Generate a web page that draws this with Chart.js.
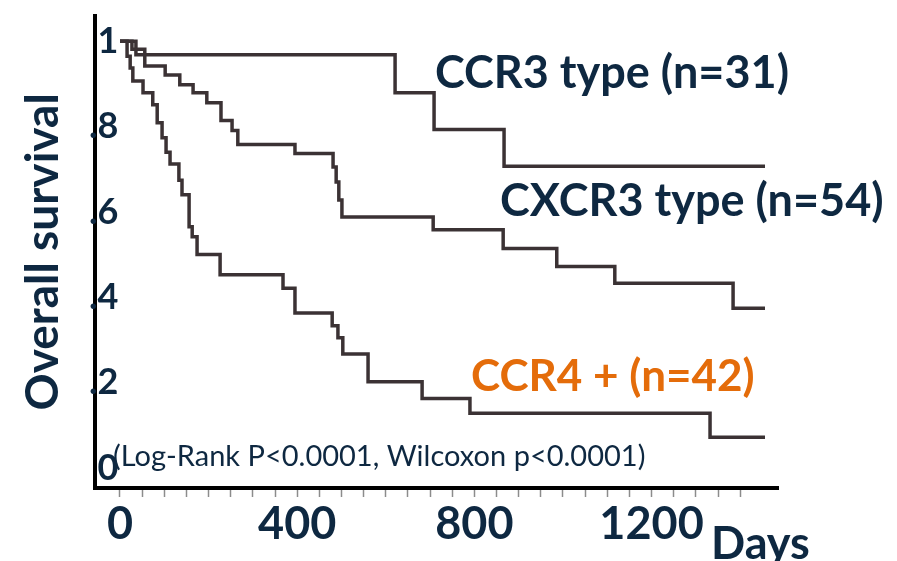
<!DOCTYPE html>
<html>
<head>
<meta charset="utf-8">
<script src="https://cdn.jsdelivr.net/npm/chart.js@4.4.1/dist/chart.umd.min.js"></script>
<style>
  html, body { margin: 0; padding: 0; background: #ffffff; overflow: hidden; }
  #wrap { width: 897px; height: 561px; }
</style>
</head>
<body>
<div id="wrap"><canvas id="c" width="897" height="561"></canvas></div>
<script>
// ---- data ----
const ccr3Days  = [0, 36, 621, 709, 867, 1456];
const ccr3Surv  = [1, 0.968, 0.879, 0.793, 0.707, 0.707];

const cxcr3Days = [0, 27, 56, 102, 135, 165, 196, 228, 253, 266, 395, 481, 488, 494, 501, 707, 865, 986, 1117, 1384, 1456];
const cxcr3Surv = [1, 0.981, 0.942, 0.921, 0.898, 0.879, 0.856, 0.814, 0.791, 0.758, 0.737, 0.705, 0.670, 0.628, 0.588, 0.558, 0.514, 0.472, 0.433, 0.374, 0.374];

const ccr4Days  = [0, 16, 23, 29, 52, 74, 84, 95, 104, 113, 133, 140, 156, 163, 174, 226, 368, 395, 479, 492, 503, 560, 682, 790, 1332, 1456];
const ccr4Surv  = [1, 0.965, 0.937, 0.907, 0.879, 0.851, 0.809, 0.774, 0.740, 0.712, 0.674, 0.640, 0.565, 0.542, 0.500, 0.453, 0.421, 0.363, 0.333, 0.305, 0.267, 0.202, 0.163, 0.128, 0.072, 0.072];

const xTickValues = [0, 400, 800, 1200];
const xTickLabels = ['0', '400', '800', '1200'];
const yTickValues = [0, 0.2, 0.4, 0.6, 0.8, 1];
const yTickLabels = ['0', '.2', '.4', '.6', '.8', '1'];

const groupLabels = ['CCR3 type (n=31)', 'CXCR3 type (n=54)', 'CCR4 + (n=42)'];
const statsNote = '(Log-Rank P<0.0001, Wilcoxon p<0.0001)';
const xTitle = 'Days';
const yTitle = 'Overall survival';

// ---- styles ----
const NAVY = '#0e2841';
const ORANGE = '#e46c0a';
const CURVE = '#3b3234';

function pts(xs, ys) { return xs.map((x, i) => ({ x: x, y: ys[i] })); }

function curve(label, xs, ys) {
  return {
    label: label,
    data: pts(xs, ys),
    stepped: 'before',
    borderColor: CURVE,
    borderWidth: 3.5,
    pointRadius: 0,
    fill: false,
    borderCapStyle: 'butt',
    borderJoinStyle: 'miter'
  };
}

const textPlugin = {
  id: 'annotTexts',
  afterDraw(chart) {
    const ctx = chart.ctx;
    ctx.save();
    ctx.textBaseline = 'alphabetic';
    ctx.textAlign = 'left';
    ctx.font = 'bold 45px Lato';
    ctx.fillStyle = NAVY;
    ctx.fillText(groupLabels[0], 435, 88);
    ctx.fillText(groupLabels[1], 500, 216);
    ctx.fillStyle = ORANGE;
    ctx.font = 'bold 44px Lato';
    ctx.fillText(groupLabels[2], 471, 391);
    ctx.fillStyle = NAVY;
    ctx.font = '29px Lato';
    ctx.fillText(statsNote, 113, 466);
    ctx.font = 'bold 45px Lato';
    ctx.fillText(xTitle, 711, 559);
    ctx.restore();
  }
};

new Chart(document.getElementById('c'), {
  type: 'line',
  data: {
    datasets: [
      curve(groupLabels[0], ccr3Days, ccr3Surv),
      curve(groupLabels[1], cxcr3Days, cxcr3Surv),
      curve(groupLabels[2], ccr4Days, ccr4Surv)
    ]
  },
  options: {
    responsive: false,
    devicePixelRatio: 1,
    animation: false,
    layout: { padding: { left: 0, right: 119, top: 12, bottom: 0 } },
    plugins: {
      legend: { display: false },
      title: { display: false },
      tooltip: { enabled: false }
    },
    scales: {
      x: {
        type: 'linear',
        min: -56.4,
        max: 1485.4,
        afterBuildTicks(scale) {
          scale.ticks = scale.ticks.filter(t => t.value >= 0 && Math.abs(t.value % 50) < 1e-6);
        },
        afterFit(scale) { scale.height = 73; },
        ticks: {
          stepSize: 50,
          autoSkip: false,
          maxRotation: 0,
          padding: 0,
          color: NAVY,
          font: { family: 'Lato', weight: 'bold', size: 45 },
          callback(v) {
            const i = xTickValues.indexOf(Math.round(v));
            return i >= 0 ? xTickLabels[i] : '';
          }
        },
        grid: {
          drawOnChartArea: false,
          drawTicks: true,
          tickLength: 9,
          tickColor: '#8c8c8c',
          tickWidth: 1.5
        },
        border: { display: true, color: '#000000', width: 4 }
      },
      y: {
        type: 'linear',
        min: -0.047,
        max: 1.06,
        afterBuildTicks(scale) {
          scale.ticks = yTickValues.map(v => ({ value: v }));
        },
        afterFit(scale) { scale.width = 95; },
        ticks: {
          mirror: true,
          crossAlign: 'far',
          padding: -6,
          color: NAVY,
          font: { family: 'Lato', weight: 'bold', size: 36 },
          callback(v) {
            const i = yTickValues.findIndex(t => Math.abs(t - v) < 1e-6);
            return i >= 0 ? yTickLabels[i] : '';
          }
        },
        grid: { drawOnChartArea: false, drawTicks: false },
        border: { display: true, color: '#000000', width: 4 },
        title: {
          display: true,
          text: yTitle,
          color: NAVY,
          font: { family: 'Lato', weight: 'bold', size: 46, lineHeight: 1.2 },
          padding: { top: 16, bottom: 0 }
        }
      }
    }
  },
  plugins: [textPlugin]
});
</script>
</body>
</html>
